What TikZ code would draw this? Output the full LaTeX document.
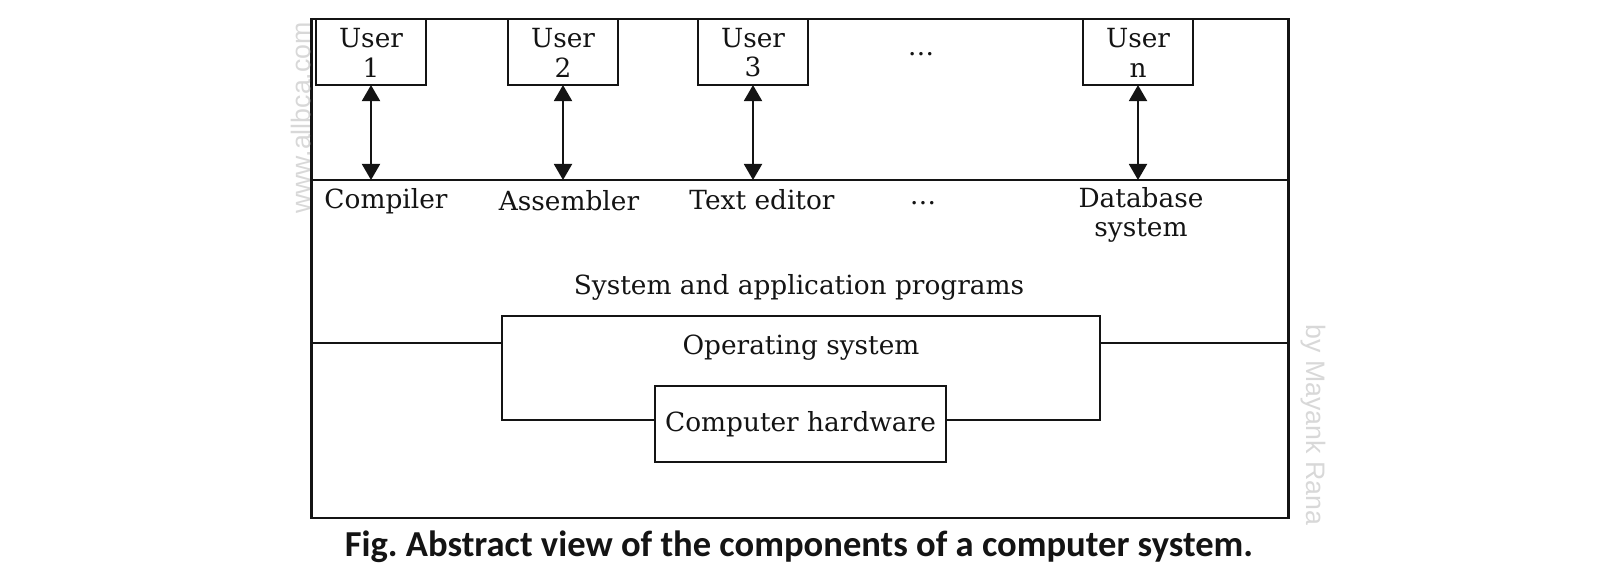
\documentclass[tikz,border=0pt]{standalone}
\usepackage{fontspec}
\setmainfont{DejaVu Serif}
\newfontfamily\capfont{Carlito}
\newfontfamily\markfont{Liberation Sans}
\usepackage{tikz}
\usetikzlibrary{arrows.meta,positioning,calc}
\definecolor{ink}{HTML}{141414}
\definecolor{wmark}{HTML}{D8D8D8}

\begin{document}
\begin{tikzpicture}[x=0.01cm,y=-0.01cm,font=\fontsize{7.5}{8.3}\selectfont,color=ink,
  frame/.style={draw=ink,line width=0.7pt,minimum width=9.76cm,minimum height=4.99cm,inner sep=0pt,outer sep=0pt},
  userbox/.style={draw=ink,line width=0.7pt,anchor=north,align=center,minimum width=1.1cm,minimum height=0.66cm,inner sep=0pt,outer sep=0pt},
  layerbox/.style={draw=ink,line width=0.7pt,inner sep=0pt,outer sep=0pt},
  link/.style={draw=ink,line width=0.55pt,{Triangle[length=1.6mm,width=1.8mm]}-{Triangle[length=1.6mm,width=1.8mm]}},
  wm/.style={color=wmark,font=\markfont\fontsize{7.6}{8}\selectfont}]
\useasboundingbox (0,0) rectangle (1600,574);
\node[frame] (frame) at (800,268.5) {};
\coordinate (cutL) at (frame.west |- 0,180);
\coordinate (cutR) at (frame.east |- 0,180);
\draw[line width=0.7pt] (cutL) -- (cutR);
\foreach \n/\t/\xx in {u1/1/371,u2/2/563,u3/3/753,un/n/1138}
  \node[userbox] (\n) at (\xx,19) {\rule{0pt}{6pt}User\\\t};
\node (dotsA) at (921,54) {\dots};
\foreach \n in {u1,u2,u3,un}
  \draw[link] (\n.south) -- (\n.south |- cutL);
\node (comp) at (386,201) {Compiler};
\node (asm) at (569,201) {Assembler};
\node (ted) at (762,200) {Text editor};
\node (dotsB) at (923,203) {\dots};
\node[align=center] (dbs) at (1141,215) {Database\\system};
\node (sap) at (799,287) {System and application programs};
\node[layerbox,minimum width=5.98cm,minimum height=1.04cm] (os) at (801,368) {};
\node[below=0.07cm of os.north] (ostext) {Operating system};
\coordinate (osL) at (frame.west |- 0,343);
\coordinate (osR) at (frame.east |- 0,343);
\draw[line width=0.7pt] (osL) -- (osL -| os.west);
\draw[line width=0.7pt] (os.east |- osR) -- (osR);
\node[layerbox,fill=white,minimum width=2.91cm,minimum height=0.76cm] (hw) at (800.5,424) {Computer hardware};
\node[font=\capfont\bfseries\fontsize{10.4}{12}\selectfont] (cap) at (799,547) {Fig.\ Abstract view of the components of a computer system.};
\node[wm,rotate=90] (wm1) at (301,118) {www.allbca.com};
\node[wm,rotate=-90] (wm2) at (1313,425) {by Mayank Rana};
\end{tikzpicture}
\end{document}
